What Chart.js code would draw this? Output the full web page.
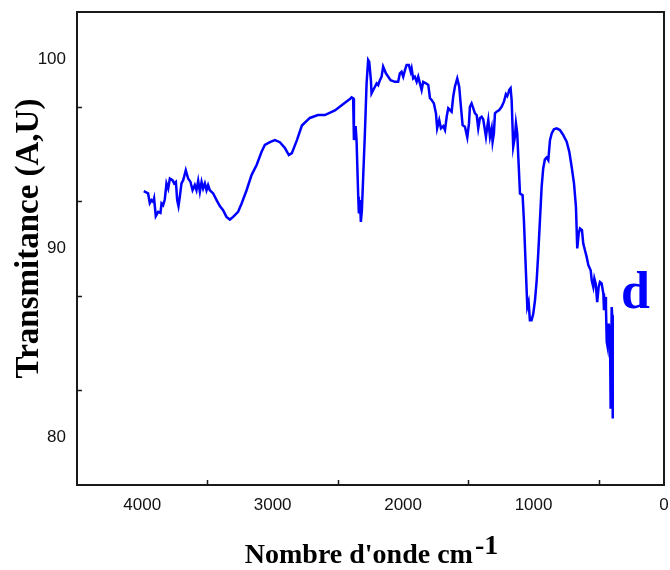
<!DOCTYPE html>
<html>
<head>
<meta charset="utf-8">
<script src="https://cdn.jsdelivr.net/npm/chart.js@4/dist/chart.umd.min.js"></script>
<style>
html,body{margin:0;padding:0;background:#fff;}
#wrap{width:670px;height:570px;position:relative;}
</style>
</head>
<body>
<div id="wrap"><canvas id="c" width="670" height="570"></canvas></div>
<script>
// Wavenumbers (cm-1) and transmittance values
const wavenumbers = [3988,3955,3942,3929,3916,3909,3896,3878,3860,3852,3840,3827,3814,3801,3788,3768,3755,3742,3732,3722,3712,3699,3686,3666,3648,3630,3614,3597,3584,3571,3558,3545,3533,3520,3507,3495,3482,3456,3430,3405,3380,3354,3328,3303,3265,3238,3200,3162,3123,3085,3060,3021,2983,2945,2906,2876,2853,2814,2776,2715,2653,2600,2523,2446,2408,2395,2383,2377,2364,2357,2344,2339,2331,2324,2316,2306,2293,2280,2268,2260,2247,2242,2229,2216,2203,2191,2178,2165,2153,2132,2114,2096,2063,2038,2025,2012,1999,1986,1973,1956,1942,1935,1923,1910,1896,1884,1871,1858,1846,1825,1807,1794,1781,1764,1748,1739,1723,1710,1692,1679,1666,1654,1641,1628,1616,1603,1585,1570,1559,1544,1526,1508,1495,1488,1475,1462,1449,1436,1424,1411,1398,1386,1373,1365,1355,1347,1334,1321,1314,1304,1296,1283,1263,1245,1227,1212,1202,1194,1186,1176,1168,1156,1143,1135,1125,1117,1104,1084,1074,1058,1048,1038,1028,1015,1002,989,976,964,951,938,926,913,900,887,874,861,844,823,798,772,746,726,708,690,675,665,654,644,629,619,606,593,580,562,554,542,534,524,512,501,491,478,465,460,452,445,439,432,424,414,409,401,397,393];
const transmittance = [93.03,92.91,92.40,92.56,92.47,92.65,91.71,91.94,91.88,92.38,92.29,92.59,93.44,93.17,93.70,93.61,93.44,93.52,92.56,92.24,92.73,93.44,93.61,94.14,93.70,93.52,93.08,93.35,93.08,93.58,93.00,93.52,93.17,93.44,93.08,93.35,93.08,92.91,92.56,92.24,92.03,91.67,91.53,91.67,91.94,92.38,93.08,93.88,94.41,95.11,95.47,95.62,95.73,95.62,95.31,94.94,95.04,95.73,96.50,96.90,97.05,97.05,97.30,97.70,97.90,97.99,97.94,95.73,96.47,95.73,92.73,91.85,92.56,91.41,92.03,93.79,96.08,98.73,99.96,99.87,98.90,98.20,98.38,98.55,98.73,98.64,98.90,99.08,99.61,99.26,99.08,98.90,98.81,98.81,99.26,99.34,99.08,99.43,99.70,99.70,99.34,99.52,98.99,99.08,98.81,99.08,98.73,98.38,98.81,98.73,98.64,97.94,97.85,97.67,97.14,96.35,96.79,96.35,96.47,96.26,96.96,97.41,97.32,97.23,98.02,98.55,98.99,98.55,97.67,96.52,96.43,95.87,96.61,97.49,97.67,97.41,97.14,97.05,96.35,96.90,96.96,96.83,96.26,95.90,96.43,96.79,95.90,96.35,95.64,96.08,97.14,97.23,97.32,97.49,97.76,98.16,98.06,98.20,98.38,98.47,97.85,95.38,95.90,96.61,96.08,94.85,92.91,92.82,91.50,88.68,86.91,87.17,86.21,86.21,86.56,87.26,88.32,89.74,91.50,93.26,94.23,94.71,94.81,94.67,95.73,96.08,96.30,96.35,96.26,95.99,95.64,95.11,94.32,93.44,92.20,90.00,90.79,91.06,90.97,90.26,89.91,89.56,89.12,88.85,88.32,87.97,88.41,88.15,87.17,87.97,88.23,88.15,87.62,86.74,87.44,86.91,85.06,84.79,86.03,85.50,81.53,86.91,86.47,81.01];

// Axis tick values
const xLabelValues = [4000, 3000, 2000, 1000, 0];
const xMarkValues = [3500, 2500, 1500, 500];
const yLabelValues = [100, 90, 80];
const yMarkValues = [97.5, 92.5, 87.5, 82.5];

const xTitle = "Nombre d'onde cm";
const xTitleSup = "-1";
const yTitle = "Transmitance (A,U)";
const sampleLabel = "d";

const points = wavenumbers.map((w, i) => ({x: w, y: transmittance[i]}));

function noPad(s) { s.paddingLeft = 0; s.paddingRight = 0; s.paddingTop = 0; s.paddingBottom = 0; }

const framePlugin = {
  id: 'frame',
  afterDraw(chart) {
    const {ctx, chartArea: a, scales} = chart;
    const xs = scales.x, ys = scales.y;
    ctx.save();
    // frame
    ctx.strokeStyle = '#1a1a1a';
    ctx.lineWidth = 2;
    ctx.strokeRect(a.left, a.top, a.right - a.left, a.bottom - a.top);
    // inward tick marks
    ctx.lineWidth = 1.5;
    ctx.beginPath();
    xMarkValues.forEach(v => {
      const px = Math.round(xs.getPixelForValue(v)) + 0.5;
      ctx.moveTo(px, a.bottom); ctx.lineTo(px, a.bottom - 5);
    });
    yMarkValues.forEach(v => {
      const py = Math.round(ys.getPixelForValue(v)) + 0.5;
      ctx.moveTo(a.left, py); ctx.lineTo(a.left + 5, py);
    });
    ctx.stroke();
    // y title
    ctx.fillStyle = '#000';
    ctx.font = 'bold 33px "Liberation Serif", "Times New Roman", serif';
    ctx.textAlign = 'center';
    ctx.textBaseline = 'alphabetic';
    ctx.save();
    ctx.translate(38, 238.5);
    ctx.rotate(-Math.PI / 2);
    ctx.fillText(yTitle, 0, 0);
    ctx.restore();
    // x title with superscript
    ctx.font = 'bold 28px "Liberation Serif", "Times New Roman", serif';
    const w1 = ctx.measureText(xTitle).width;
    const w2 = ctx.measureText(xTitleSup).width;
    const cx = (a.left + a.right) / 2;
    const startX = cx - (w1 + w2) / 2;
    ctx.textAlign = 'left';
    ctx.fillText(xTitle, startX, 563);
    ctx.fillText(xTitleSup, startX + w1 + 2, 554);
    // sample label
    ctx.fillStyle = '#0000ff';
    ctx.font = 'bold 52px "Liberation Serif", "Times New Roman", serif';
    ctx.fillText(sampleLabel, xs.getPixelForValue(330), ys.getPixelForValue(86.84));
    ctx.restore();
  }
};

new Chart(document.getElementById('c'), {
  type: 'line',
  data: {
    datasets: [{
      data: points,
      borderColor: '#0000ff',
      borderWidth: 2.5,
      pointRadius: 0,
      fill: false,
      tension: 0
    }]
  },
  options: {
    responsive: false,
    animation: false,
    events: [],
    layout: {padding: {top: 12, right: 6, left: 0, bottom: 0}},
    plugins: {legend: {display: false}, tooltip: {enabled: false}},
    scales: {
      x: {
        type: 'linear',
        reverse: true,
        min: 0,
        max: 4500,
        afterFit(s) { s.height = 85; noPad(s); },
        afterBuildTicks(s) { s.ticks = xLabelValues.map(v => ({value: v})); },
        grid: {display: false, drawTicks: false},
        border: {display: false},
        ticks: {
          autoSkip: false, maxRotation: 0, padding: 10,
          color: '#111',
          font: {family: '"Liberation Sans", Arial, sans-serif', size: 17},
          callback: v => String(v)
        }
      },
      y: {
        type: 'linear',
        min: 77.5,
        max: 102.5,
        afterFit(s) { s.width = 77; noPad(s); },
        afterBuildTicks(s) { s.ticks = yLabelValues.map(v => ({value: v})); },
        grid: {display: false, drawTicks: false},
        border: {display: false},
        ticks: {
          autoSkip: false, padding: 11,
          color: '#111',
          font: {family: '"Liberation Sans", Arial, sans-serif', size: 17},
          callback: v => String(v)
        }
      }
    }
  },
  plugins: [framePlugin]
});
</script>
</body>
</html>
